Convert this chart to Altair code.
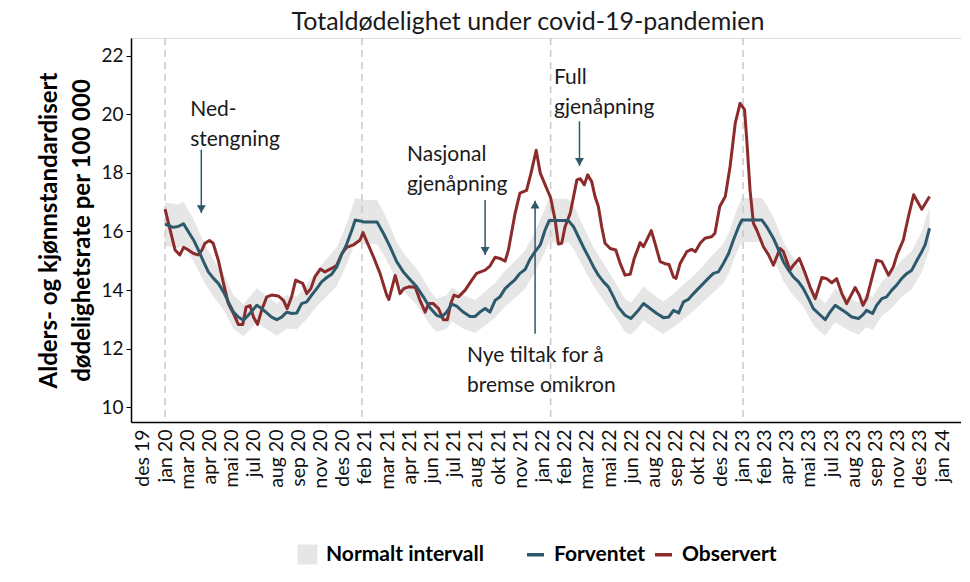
import json
import altair as alt
import pandas as pd

# ---------------- data ----------------
tick_labels = ["des 19", "jan 20", "mar 20", "apr 20", "mai 20", "jul 20", "aug 20", "sep 20",
               "nov 20", "des 20", "feb 21", "mar 21", "apr 21", "jun 21", "jul 21", "aug 21",
               "okt 21", "nov 21", "jan 22", "feb 22", "mar 22", "mai 22", "jun 22", "aug 22",
               "sep 22", "okt 22", "des 22", "jan 23", "feb 23", "apr 23", "mai 23", "jul 23",
               "aug 23", "sep 23", "nov 23", "des 23", "jan 24"]
tick_weeks = [-6, 0, 6, 12, 18, 24, 30, 36, 42, 48, 54, 60, 66, 72, 78, 84, 90, 96, 102,
              108, 114, 120, 126, 132, 138, 144, 150, 156, 162, 168, 174, 180, 186, 192,
              198, 204, 210]

year_start_weeks = [0, 53.2, 104.2, 156.2]

exp_weeks = [0, 2.2, 3.5, 5, 6.3, 7.7, 9, 10.4, 11.7, 13.1, 14.4, 15.8, 17.1, 18.5, 19.8, 21.2,
             22.5, 24.8, 26.1, 27.5, 28.8, 30.2, 31.5, 32.9, 34.2, 35.6, 36.9, 38.3, 39.6, 41,
             42.3, 43.7, 45, 46.4, 47.7, 49.1, 50.5, 51.4, 52.7, 53.8, 57.3, 59, 60.8, 62.6,
             64.4, 66.2, 68, 69.8, 71.6, 73.4, 74.8, 76.1, 77.5, 78.8, 80.6, 82.4, 83.8, 85.1,
             86.5, 87.8, 89.2, 90.5, 91.9, 93.2, 94.6, 95.9, 97.3, 98.6, 100, 101.4, 102.7,
             103.8, 109, 110.4, 111.7, 113, 114.4, 115.8, 117.1, 118.5, 119.8, 121.2, 122.5,
             124.3, 125.9, 127.5, 129.3, 131.1, 132.9, 134.7, 136.1, 137.4, 138.8, 140.1,
             141.4, 142.8, 144.1, 145.5, 146.8, 148.2, 149.5, 150.9, 152.3, 153.6, 155, 155.9,
             161.3, 162.6, 164.4, 165.8, 167.1, 168.5, 169.8, 171.2, 172.5, 173.9, 175.2,
             176.6, 178.4, 179.7, 181.1, 182.4, 184.2, 185.6, 187.4, 188.7, 189.6, 191.2,
             192.3, 193.7, 195, 196.4, 197.7, 199.1, 200.5, 201.8, 203.2, 204.5, 205.4, 206.6]
exp_values = [16.25, 16.14, 16.17, 16.26, 15.99, 15.71, 15.37, 14.97, 14.62, 14.40, 14.23, 13.94,
              13.60, 13.25, 13.08, 12.97, 13.14, 13.48, 13.37, 13.22, 13.08, 12.99, 13.08, 13.25,
              13.20, 13.22, 13.54, 13.60, 13.83, 14.05, 14.28, 14.43, 14.54, 14.79, 15.20, 15.57,
              16.05, 16.39, 16.36, 16.32, 16.32, 15.94, 15.48, 14.97, 14.62, 14.36, 14.11, 13.77,
              13.40, 13.14, 13.08, 13.25, 13.52, 13.45, 13.25, 13.10, 13.10, 13.25, 13.37, 13.25,
              13.65, 13.77, 14.05, 14.20, 14.36, 14.57, 14.70, 15.05, 15.31, 15.54, 16.05, 16.37,
              16.37, 16.16, 15.82, 15.48, 15.14, 14.79, 14.51, 14.28, 14.11, 13.77, 13.42, 13.14,
              13.03, 13.25, 13.54, 13.37, 13.20, 13.06, 13.08, 13.31, 13.22, 13.60, 13.68, 13.88,
              14.05, 14.23, 14.40, 14.57, 14.62, 14.91, 15.25, 15.71, 16.16, 16.39, 16.39, 16.16,
              15.77, 15.37, 14.97, 14.68, 14.45, 14.28, 14.05, 13.71, 13.37, 13.20, 12.99, 13.25,
              13.48, 13.37, 13.22, 13.08, 13.03, 13.17, 13.31, 13.20, 13.48, 13.71, 13.77, 14.00,
              14.17, 14.40, 14.57, 14.68, 15.02, 15.31, 15.54, 16.11]

obs_weeks = [0, 2.7, 4, 5, 5.9, 7.7, 9, 10, 10.8, 12, 13, 14.4, 15.8, 17.1, 18.5, 19.8, 21, 21.9,
             23, 23.9, 25, 26.1, 27.5, 28.8, 30.6, 32, 33, 34.2, 35.3, 36.3, 37.2, 38.3, 39.4,
             40.5, 42, 43.2, 45, 46.4, 47.8, 49.1, 50.9, 52.7, 53.5, 56.3, 58.1, 59.9, 60.5,
             62.2, 63.5, 64.5, 65.8, 67.6, 68.9, 70.3, 71.2, 72.5, 73.9, 75.2, 76.3, 77.2, 78.1,
             79.3, 81.1, 82.9, 84.2, 86.5, 87.8, 89.2, 90.5, 91.9, 92.8, 94.6, 95.9, 97.7, 98.9,
             100.3, 101.4, 102.7, 104.2, 105.4, 106.3, 107.2, 108.1, 109.5, 111.3, 112.2, 113.3,
             114.2, 115.3, 116.2, 117.1, 118, 118.9, 120.3, 121.8, 123, 124.3, 125.7, 126.8,
             128.4, 129.3, 131.4, 132.4, 133.8, 135.1, 136.2, 137.4, 138.1, 139.2, 141, 142.3,
             143.3, 144.6, 145.9, 147.7, 148.6, 149.9, 151.4, 152.7, 154.1, 155.4, 156.6, 157.2,
             158.1, 159, 159.9, 161.7, 163.1, 164.4, 166.2, 167.1, 168.9, 169.8, 171.4, 173,
             174.3, 175.7, 177.5, 178.8, 180.2, 181.5, 182.9, 184.2, 186.5, 187.6, 188.6, 189.6,
             191, 192.3, 193.7, 195.5, 196.8, 197.8, 199.5, 200.9, 202.3, 204.5, 206.6]
obs_values = [16.76, 15.37, 15.20, 15.46, 15.40, 15.25, 15.20, 15.37, 15.60, 15.69, 15.60, 15.02,
              14.23, 13.54, 13.20, 12.83, 12.83, 13.42, 13.47, 13.08, 12.83, 13.31, 13.77, 13.83,
              13.80, 13.65, 13.37, 13.77, 14.34, 14.28, 14.23, 13.88, 14.05, 14.45, 14.72, 14.62,
              14.74, 14.85, 15.25, 15.46, 15.54, 15.71, 15.96, 15.14, 14.57, 13.83, 13.68, 14.50,
              13.88, 14.05, 14.11, 14.10, 13.65, 13.25, 13.54, 13.54, 13.37, 12.99, 12.99, 13.54,
              13.83, 13.77, 14.00, 14.34, 14.57, 14.68, 14.82, 15.12, 15.08, 14.99, 15.37, 16.62,
              17.31, 17.40, 17.99, 18.77, 17.99, 17.60, 17.15, 16.40, 15.57, 15.60, 16.16, 16.62,
              17.76, 17.80, 17.59, 17.93, 17.70, 17.19, 16.85, 16.16, 15.60, 15.42, 15.37, 14.91,
              14.51, 14.54, 15.08, 15.62, 15.48, 16.03, 15.60, 14.97, 14.90, 14.87, 14.45, 14.40,
              14.91, 15.31, 15.39, 15.31, 15.60, 15.77, 15.82, 15.94, 16.85, 17.19, 18.22, 19.70,
              20.37, 20.16, 19.13, 17.40, 16.28, 16.05, 15.48, 15.20, 14.85, 15.42, 15.31, 14.68,
              14.85, 15.08, 14.57, 14.11, 13.71, 14.43, 14.39, 14.25, 14.39, 13.88, 13.54, 14.09,
              13.83, 13.48, 13.71, 14.40, 15.02, 14.97, 14.51, 14.79, 15.20, 15.71, 16.51, 17.25,
              16.76, 17.19]

band_weeks = [0, 3.5, 5, 7.7, 10.4, 13.1, 15.8, 18.5, 21.2, 24.8, 27.5, 30.2, 32.9, 35.6, 38.3,
              41, 43.7, 46.4, 49.1, 51.4, 53.8, 57.3, 59, 60.8, 62.6, 64.4, 66.2, 68, 69.8, 71.6,
              73.4, 76.1, 77.5, 80.6, 83.8, 86.5, 89.2, 91.9, 94.6, 97.3, 100, 102.7, 103.8, 109,
              110.4, 111.7, 113, 115.8, 118.5, 121.2, 124.3, 125.9, 127.5, 129.3, 132.9, 134.7,
              137.4, 140.1, 142.8, 145.5, 148.2, 150.9, 152.3, 153.6, 155, 155.9, 161.3, 162.6,
              164.4, 165.8, 167.1, 169.8, 172.5, 175.2, 178.4, 181.1, 184.2, 187.4, 189.6, 191.2,
              193.7, 196.4, 199.1, 201.8, 204.5, 206.6]
band_lo = [15.50, 15.43, 15.51, 15.00, 14.30, 13.77, 13.33, 12.68, 12.42, 12.90, 12.66, 12.44,
           12.68, 12.66, 13.01, 13.44, 13.79, 14.13, 14.87, 15.64, 15.57, 15.57, 15.21, 14.78,
           14.30, 13.97, 13.73, 13.49, 13.17, 12.83, 12.58, 12.68, 12.94, 12.68, 12.54, 12.79,
           13.06, 13.44, 13.73, 14.05, 14.62, 15.32, 15.62, 15.62, 15.42, 15.10, 14.78, 14.13,
           13.65, 13.17, 12.58, 12.48, 12.68, 12.96, 12.64, 12.51, 12.74, 13.01, 13.28, 13.61,
           13.92, 14.24, 14.57, 15.00, 15.42, 15.64, 15.64, 15.42, 15.06, 14.69, 14.30, 13.81,
           13.44, 12.79, 12.44, 12.90, 12.66, 12.48, 12.74, 12.64, 13.12, 13.39, 13.77, 14.03,
           14.62, 15.38]
band_hi = [17.00, 16.91, 17.01, 16.42, 15.64, 15.03, 14.55, 13.82, 13.52, 14.06, 13.78, 13.54,
           13.82, 13.78, 14.19, 14.66, 15.07, 15.45, 16.27, 17.14, 17.07, 17.07, 16.67, 16.18,
           15.64, 15.27, 14.99, 14.73, 14.37, 13.97, 13.70, 13.82, 14.10, 13.82, 13.66, 13.95,
           14.24, 14.66, 14.99, 15.35, 16.00, 16.78, 17.12, 17.12, 16.90, 16.54, 16.18, 15.45,
           14.91, 14.37, 13.70, 13.58, 13.82, 14.12, 13.76, 13.61, 13.88, 14.19, 14.48, 14.85,
           15.22, 15.58, 15.93, 16.42, 16.90, 17.14, 17.14, 16.90, 16.48, 16.05, 15.64, 15.09,
           14.66, 13.95, 13.54, 14.06, 13.78, 13.58, 13.88, 13.76, 14.30, 14.61, 15.03, 15.33,
           16.00, 16.84]

note_texts = ["Ned-\nstengning", "Nasjonal\ngjenåpning", "Full\ngjenåpning",
              "Nye tiltak for å\nbremse omikron"]
note_weeks = [6.8, 65.4, 105.1, 81.6]
note_values = [19.93, 18.39, 21.02, 11.54]

arrow_weeks = [9.8, 86.5, 100.0, 112.0]
arrow_from = [18.79, 17.07, 12.51, 19.76]
arrow_to = [16.63, 15.20, 17.05, 18.24]
arrow_dir = ["ned", "ned", "opp", "ned"]

# ---------------- styling ----------------
RED = "#8B2B2B"
BLUE = "#2C5A6C"
BAND = "#E6E6E6"
ARROW = "#2F5869"
FONT = "Lato"

xscale = alt.Scale(domain=[-9.2, 215.1], nice=False, zero=False)
yscale = alt.Scale(domain=[9.5, 22.6], nice=False, zero=False)

label_expr = json.dumps(tick_labels) + "[round((datum.value + 6) / 6)]"
xaxis = alt.Axis(values=tick_weeks, labelExpr=label_expr, labelAngle=-90, grid=False,
                 ticks=False, domainColor="black", domainWidth=1.5, labelFont=FONT,
                 labelFontSize=19.5, labelColor="#111111", labelPadding=7, labelOverlap=False,
                 labelFlush=False, title=None)
yaxis = alt.Axis(values=[10, 12, 14, 16, 18, 20, 22], grid=False, tickColor="black",
                 tickSize=5, domainColor="black", domainWidth=1.5, labelFont=FONT,
                 labelFontSize=19, labelColor="#111111", labelPadding=3,
                 title=["Alders- og kjønnstandardisert", "dødelighetsrate per 100 000"],
                 titleFont=FONT, titleFontSize=24, titleFontWeight="bold", titleColor="black",
                 titlePadding=6, titleLineHeight=33)


def xenc():
    return alt.X("week:Q", scale=xscale, axis=xaxis)


def yenc():
    return alt.Y("value:Q", scale=yscale, axis=yaxis)


band_df = pd.DataFrame({"week": band_weeks, "value": band_lo, "value2": band_hi,
                        "serie": "Normalt intervall"})
exp_df = pd.DataFrame({"week": exp_weeks, "value": exp_values, "serie": "Forventet"})
obs_df = pd.DataFrame({"week": obs_weeks, "value": obs_values, "serie": "Observert"})
year_df = pd.DataFrame({"week": year_start_weeks})
note_df = pd.DataFrame({"week": note_weeks, "value": note_values, "text": note_texts})
arrow_df = pd.DataFrame({"week": arrow_weeks, "value": arrow_from, "value2": arrow_to,
                         "dir": arrow_dir})

fill_legend = alt.Legend(title=None, orient="none", legendX=166, legendY=506,
                         symbolType="square", symbolSize=400, symbolStrokeWidth=0,
                         labelFont=FONT, labelFontSize=21, labelFontWeight="bold",
                         labelColor="black", labelOffset=8, padding=0, labelLimit=400)
stroke_legend = alt.Legend(title=None, orient="none", legendX=394, legendY=506,
                           direction="horizontal", symbolType="stroke", symbolSize=289,
                           symbolStrokeWidth=3.5, labelFont=FONT, labelFontSize=21,
                           labelFontWeight="bold", labelColor="black", labelOffset=8,
                           columnPadding=2, padding=0, labelLimit=400)

band = alt.Chart(band_df).mark_area(opacity=1, interpolate="linear").encode(
    x=xenc(), y=yenc(), y2="value2:Q",
    fill=alt.Fill("serie:N", scale=alt.Scale(domain=["Normalt intervall"], range=[BAND]),
                  legend=fill_legend),
)

years = alt.Chart(year_df).mark_rule(color="#C9C9C9", strokeWidth=1.5,
                                     strokeDash=[7, 5]).encode(x=xenc())

stroke_scale = alt.Scale(domain=["Forventet", "Observert"], range=[BLUE, RED])

obs_line = alt.Chart(obs_df).mark_line(strokeWidth=3, strokeJoin="round").encode(
    x=xenc(), y=yenc(),
    stroke=alt.Stroke("serie:N", scale=stroke_scale, legend=stroke_legend),
)
exp_line = alt.Chart(exp_df).mark_line(strokeWidth=3, strokeJoin="round").encode(
    x=xenc(), y=yenc(),
    stroke=alt.Stroke("serie:N", scale=stroke_scale, legend=stroke_legend),
)

arrow_shaft = alt.Chart(arrow_df).mark_rule(color=ARROW, strokeWidth=1.5).encode(
    x=xenc(), y=yenc(), y2="value2:Q")
arrow_down = alt.Chart(arrow_df).transform_filter(alt.datum.dir == "ned").mark_point(
    shape="triangle-down", filled=True, color=ARROW, size=80, opacity=1, yOffset=-4
).encode(x=xenc(), y=alt.Y("value2:Q", scale=yscale, axis=yaxis))
arrow_up = alt.Chart(arrow_df).transform_filter(alt.datum.dir == "opp").mark_point(
    shape="triangle-up", filled=True, color=ARROW, size=80, opacity=1, yOffset=4
).encode(x=xenc(), y=alt.Y("value2:Q", scale=yscale, axis=yaxis))

notes = alt.Chart(note_df).mark_text(align="left", baseline="alphabetic", lineBreak="\n",
                                     lineHeight=30, font=FONT, fontSize=21,
                                     color="#1a1a1a").encode(
    x=xenc(), y=yenc(), text="text:N")

chart = alt.layer(band, years, obs_line, exp_line, arrow_shaft, arrow_down, arrow_up,
                  notes).properties(
    width=830, height=384,
    title=alt.TitleParams(text="Totaldødelighet under covid-19-pandemien", anchor="middle",
                          dx=-18, offset=2, font=FONT, fontSize=25, fontWeight="normal",
                          color="#1a1a1a"),
    autosize=alt.AutoSizeParams(type="none"),
    padding={"left": 123, "top": 30, "right": 0, "bottom": 150},
).configure_view(stroke=None).configure(background="white")

chart.save("out.html", embed_options={"renderer": "svg", "actions": False})
